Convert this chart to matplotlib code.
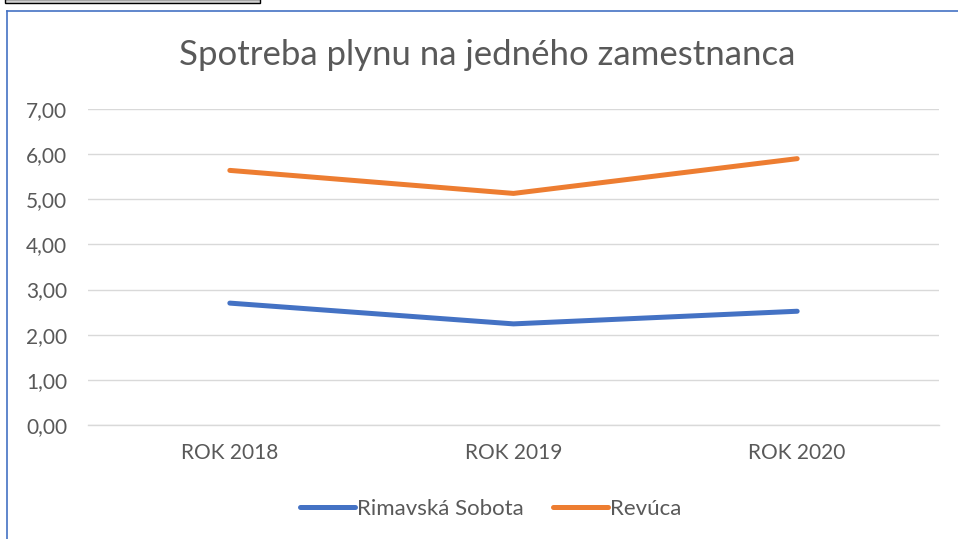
import matplotlib
matplotlib.use("Agg")
import matplotlib.pyplot as plt
from matplotlib.patches import Rectangle
from matplotlib.lines import Line2D

categories = ["ROK 2018", "ROK 2019", "ROK 2020"]
rimavska_sobota = [2.70, 2.24, 2.52]
revuca = [5.64, 5.13, 5.90]
series_names = ["Rimavská Sobota", "Revúca"]
yticks = [0, 1, 2, 3, 4, 5, 6, 7]
title = "Spotreba plynu na jedného zamestnanca"

BLUE = "#4472C4"
ORANGE = "#ED7D31"
TEXT = "#595959"
GRID = "#D9D9D9"

plt.rcParams['font.family'] = ['Lato', 'DejaVu Sans']

W, H = 958, 539
fig = plt.figure(figsize=(W / 100, H / 100), dpi=100)

# chart frame (blue border, left and top)
fig.add_artist(Line2D([7 / W, 7 / W], [0, 1 - 11 / H], transform=fig.transFigure,
                      color=BLUE, lw=1.2))
fig.add_artist(Line2D([7 / W, 1], [1 - 11 / H, 1 - 11 / H], transform=fig.transFigure,
                      color=BLUE, lw=1.2))
# black box artifact top-left
fig.add_artist(Rectangle((5 / W, 1 - 3 / H), 255 / W, 4 / H, transform=fig.transFigure,
                         facecolor="#d0d0d0", edgecolor="black", lw=1.0))

left, right = 88, 939
top, bottom = 109, 425
ax = fig.add_axes([left / W, 1 - bottom / H, (right - left) / W, (bottom - top) / H])

x = list(range(len(categories)))
ax.plot(x, rimavska_sobota, color=BLUE, lw=3.6, solid_capstyle="round",
        solid_joinstyle="round", label=series_names[0], zorder=3)
ax.plot(x, revuca, color=ORANGE, lw=3.6, solid_capstyle="round",
        solid_joinstyle="round", label=series_names[1], zorder=3)

ax.set_xlim(-0.5, len(categories) - 0.5)
ax.set_ylim(0, 7)
ax.set_yticks(yticks)
ax.set_yticklabels([f"{v:.2f}".replace(".", ",") for v in yticks])
ax.set_xticks(x)
ax.set_xticklabels(categories)
ax.tick_params(axis="both", length=0, labelsize=15, colors=TEXT)
ax.tick_params(axis="y", pad=15)
ax.tick_params(axis="x", pad=13)
ax.grid(axis="y", color=GRID, lw=1.0)
ax.set_axisbelow(True)
for s in ["top", "right", "left"]:
    ax.spines[s].set_visible(False)
ax.spines["bottom"].set_color(GRID)
ax.spines["bottom"].set_linewidth(1.0)

fig.text(487 / W, 1 - 55 / H, title, ha="center", va="center", fontsize=25, color=TEXT)

leg = fig.legend(loc="center", bbox_to_anchor=(491 / W, 1 - 509 / H), ncol=2, frameon=False,
                 fontsize=16, handlelength=2.45, handletextpad=0.12, columnspacing=1.3)
for t in leg.get_texts():
    t.set_color(TEXT)

fig.savefig("out.png", dpi=100)
